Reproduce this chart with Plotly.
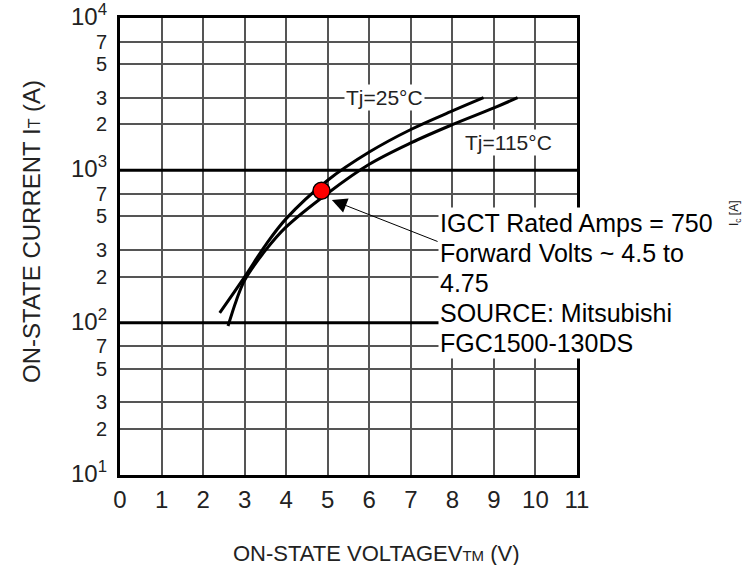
import math
import plotly.graph_objects as go

# ---- data ----
v_25 = [2.4, 3.0, 3.5, 4.0, 5.0, 6.0, 7.0, 8.0, 8.75]
i_25 = [116, 200, 322, 482, 861, 1318, 1854, 2455, 3000]
v_115 = [2.6, 2.8, 3.0, 3.5, 4.0, 5.0, 6.0, 7.0, 8.0, 9.0, 9.57]
i_115 = [95, 140, 190, 298, 425, 708, 1096, 1514, 1995, 2570, 3000]

rated_v = [4.85]
rated_i = [735]

x_ticks = list(range(0, 12))
y_tickvals = [10, 20, 30, 50, 70, 100, 200, 300, 500, 700,
              1000, 2000, 3000, 5000, 7000, 10000]
decade_lines = [100, 1000]


def ylab(v):
    e = math.log10(v)
    if abs(e - round(e)) < 1e-9:
        return '<span style="font-size:24px">10<sup>%d</sup></span>' % round(e)
    return str(int(round(v / 10 ** math.floor(e))))


y_ticktext = [ylab(v) for v in y_tickvals]

FONT = "Liberation Sans, Arial, sans-serif"
TXT = "#222"

fig = go.Figure()

# heavy decade lines
for d in decade_lines:
    fig.add_trace(go.Scatter(x=[0, 11], y=[d, d], mode="lines",
                             line=dict(color="black", width=3),
                             hoverinfo="skip", showlegend=False))

fig.add_trace(go.Scatter(x=v_25, y=i_25, mode="lines", line_shape="spline",
                         line=dict(color="black", width=3), name="Tj=25°C",
                         showlegend=False))
fig.add_trace(go.Scatter(x=v_115, y=i_115, mode="lines", line_shape="spline",
                         line=dict(color="black", width=3), name="Tj=115°C",
                         showlegend=False))
fig.add_trace(go.Scatter(x=rated_v, y=rated_i, mode="markers",
                         marker=dict(size=17, color="#ff0000",
                                     line=dict(color="black", width=1.5)),
                         showlegend=False))

fig.update_xaxes(range=[0, 11], tickvals=x_ticks, ticktext=[str(t) for t in x_ticks],
                 showgrid=True, gridcolor="#555", gridwidth=1.5,
                 showline=True, linecolor="black", linewidth=3, mirror=True,
                 ticks="", zeroline=False, ticklabelstandoff=1,
                 ticklabeloverflow="allow", automargin=False,
                 tickfont=dict(family=FONT, size=24, color=TXT))
fig.update_yaxes(type="log", range=[1 - 1e-4, 4 + 1e-4], tickvals=y_tickvals,
                 ticktext=y_ticktext,
                 showgrid=True, gridcolor="#555", gridwidth=1.5,
                 showline=True, linecolor="black", linewidth=3, mirror=True,
                 ticks="", zeroline=False, ticklabelstandoff=6,
                 ticklabeloverflow="allow", automargin=False,
                 tickfont=dict(family=FONT, size=20, color=TXT))

ann = []
# curve labels
ann.append(dict(x=6.36, y=3.477, xref="x", yref="y", text="Tj=25°C", showarrow=False,
                bgcolor="white", borderpad=1, font=dict(family=FONT, size=21, color=TXT)))
ann.append(dict(x=9.35, y=3.186, xref="x", yref="y", text="Tj=115°C", showarrow=False,
                bgcolor="white", borderpad=1, font=dict(family=FONT, size=21, color=TXT)))
# arrow
ann.append(dict(x=5.10, y=2.805, xref="x", yref="y", ax=7.68, ay=2.529,
                axref="x", ayref="y", text="", showarrow=True,
                arrowhead=2, arrowsize=3, arrowwidth=1, arrowcolor="black"))
# text box
lines = ["IGCT Rated Amps = 750", "Forward Volts ~ 4.5 to", "4.75",
         "SOURCE: Mitsubishi", "FGC1500-130DS"]
box = "<br>".join('<span style="font-size:25px">%s</span>' % l for l in lines)
ann.append(dict(x=(438 - 120) / 457, y=(475 - 207) / 457, xref="paper", yref="paper",
                xanchor="left", yanchor="top", align="left", text=box, showarrow=False,
                bgcolor="white", borderpad=1,
                font=dict(family=FONT, size=23, color="black")))
# axis titles
ann.append(dict(x=(376 - 120) / 457, y=(475 - 553) / 457, xref="paper", yref="paper",
                text='ON-STATE VOLTAGEV<span style="font-size:15px">TM</span> (V)',
                showarrow=False, xanchor="center", yanchor="middle",
                font=dict(family=FONT, size=22, color=TXT)))
ann.append(dict(x=(31 - 120) / 457, y=(475 - 232) / 457, xref="paper", yref="paper",
                text='ON-STATE CURRENT I<span style="font-size:16px">T</span> (A)',
                showarrow=False, textangle=-90, xanchor="center", yanchor="middle",
                font=dict(family=FONT, size=24, color=TXT)))
ann.append(dict(x=(735 - 120) / 457, y=(475 - 213) / 457, xref="paper", yref="paper",
                text='I<sub>c</sub> [A]', showarrow=False, textangle=-90,
                xanchor="center", yanchor="middle",
                font=dict(family=FONT, size=12, color=TXT)))

fig.update_layout(width=743, height=565,
                  margin=dict(l=120, r=166, t=18, b=90, autoexpand=False),
                  paper_bgcolor="white", plot_bgcolor="white",
                  annotations=ann, showlegend=False)

fig.write_html("out.html")
